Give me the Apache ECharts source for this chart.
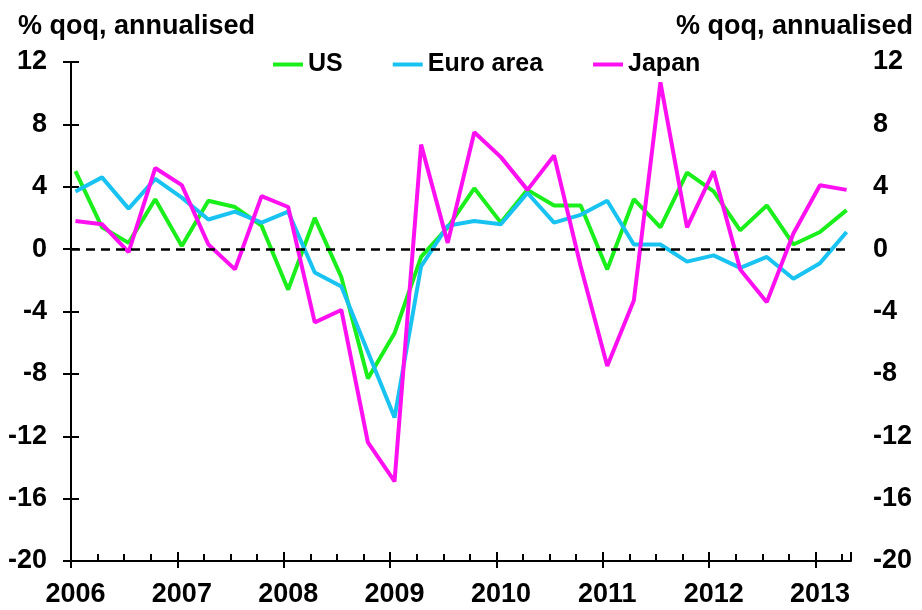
<!DOCTYPE html>
<html lang="en">
<head>
    <meta charset="UTF-8">
    <title>GDP growth: US, Euro area, Japan</title>
    <script src="https://cdn.jsdelivr.net/npm/echarts@6/dist/echarts.min.js"></script>
    <style>
        * { margin: 0; padding: 0; }
        body { background: #ffffff; }
        #chart { width: 922px; height: 610px; }
    </style>
</head>
<body>
    <div id="chart"></div>

    <script>
        // quarterly, 2006 Q1 .. 2013 Q2
        var quarters = [
            '2006Q1', '2006Q2', '2006Q3', '2006Q4',
            '2007Q1', '2007Q2', '2007Q3', '2007Q4',
            '2008Q1', '2008Q2', '2008Q3', '2008Q4',
            '2009Q1', '2009Q2', '2009Q3', '2009Q4',
            '2010Q1', '2010Q2', '2010Q3', '2010Q4',
            '2011Q1', '2011Q2', '2011Q3', '2011Q4',
            '2012Q1', '2012Q2', '2012Q3', '2012Q4',
            '2013Q1', '2013Q2'
        ];
        var us = [5.0, 1.4, 0.4, 3.2, 0.2, 3.1, 2.7, 1.5, -2.6, 2.0,
                  -1.8, -8.3, -5.4, -0.5, 1.4, 3.9, 1.7, 3.8, 2.8, 2.8,
                  -1.3, 3.2, 1.4, 4.9, 3.7, 1.2, 2.8, 0.3, 1.1, 2.5];
        var euro = [3.7, 4.6, 2.6, 4.5, 3.3, 1.9, 2.4, 1.7, 2.4, -1.5,
                    -2.4, -6.6, -10.8, -1.1, 1.5, 1.8, 1.6, 3.6, 1.7, 2.2,
                    3.1, 0.3, 0.3, -0.8, -0.4, -1.2, -0.5, -1.9, -0.9, 1.1];
        var japan = [1.8, 1.6, -0.2, 5.2, 4.1, 0.3, -1.3, 3.4, 2.7, -4.7,
                     -3.9, -12.4, -14.9, 6.7, 0.4, 7.5, 5.9, 3.8, 6.0, -1.1,
                     -7.5, -3.3, 10.7, 1.4, 5.0, -1.3, -3.4, 1.0, 4.1, 3.8];
        var firstYear = 2006;
        var yTicks = { min: -20, max: 12, step: 4 };

        var font = 'Arial, "Liberation Sans", sans-serif';
        var months = quarters.length * 3 - 2;   // axis runs Jan 2006 .. end Apr 2013

        // each quarter plotted in the middle of its first month
        function toPoints(values) {
            return values.map(function (v, i) { return [i * 3 + 0.5, v]; });
        }

        var labelStyle = { color: '#000', fontFamily: font, fontWeight: 'bold', fontSize: 27 };
        var tickLine = { color: '#000', width: 2 };

        function yAxisFor(pos, margin) {
            return {
                type: 'value',
                position: pos,
                min: yTicks.min,
                max: yTicks.max,
                interval: yTicks.step,
                axisLine: { show: true, lineStyle: tickLine },
                axisTick: { show: true, inside: true, length: 8, lineStyle: tickLine },
                axisLabel: Object.assign({ margin: margin }, labelStyle),
                splitLine: { show: false }
            };
        }

        // extra axes sitting on the bottom edge, only to draw ticks pointing up
        function innerTicks(step, len) {
            return {
                type: 'value',
                position: 'top',
                offset: -499,
                min: 0,
                max: months,
                interval: step,
                axisLine: { show: false },
                axisTick: { show: true, inside: false, length: len, lineStyle: tickLine },
                axisLabel: { show: false },
                splitLine: { show: false }
            };
        }

        var chart = echarts.init(document.getElementById('chart'));
        chart.setOption({
            animation: false,
            backgroundColor: '#fff',
            title: [
                { text: '% qoq, annualised', left: 13, top: 8, textStyle: labelStyle },
                { text: '% qoq, annualised', right: 4, top: 8, textStyle: labelStyle }
            ],
            legend: {
                left: 268,
                top: 47,
                icon: 'rect',
                itemWidth: 30,
                itemHeight: 4,
                itemGap: 50,
                textStyle: { color: '#000', fontFamily: font, fontWeight: 'bold', fontSize: 25 },
                data: ['US', 'Euro area', 'Japan']
            },
            grid: { left: 71, right: 71, top: 62, bottom: 49, containLabel: false },
            xAxis: [
                {
                    type: 'value',
                    position: 'bottom',
                    min: 0,
                    max: months,
                    interval: 12,
                    axisLine: { show: true, onZero: false, lineStyle: tickLine },
                    axisTick: { show: true, inside: false, length: 7, lineStyle: tickLine },
                    axisLabel: Object.assign({
                        margin: 20,
                        padding: [0, 0, 0, 9],
                        showMaxLabel: false,
                        formatter: function (v) { return v % 12 === 0 ? String(firstYear + v / 12) : ''; }
                    }, labelStyle),
                    splitLine: { show: false }
                },
                innerTicks(3, 7),
                innerTicks(12, 9)
            ],
            yAxis: [yAxisFor('left', 24), yAxisFor('right', 22)],
            series: [
                {
                    name: 'US', type: 'line', symbol: 'none',
                    data: toPoints(us),
                    lineStyle: { color: '#1BEF1B', width: 4 },
                    itemStyle: { color: '#1BEF1B' },
                    markLine: {
                        silent: true,
                        symbol: 'none',
                        label: { show: false },
                        lineStyle: { color: '#000', type: [9, 6], width: 2.5 },
                        data: [{ yAxis: 0 }]
                    }
                },
                {
                    name: 'Euro area', type: 'line', symbol: 'none',
                    data: toPoints(euro),
                    lineStyle: { color: '#18C3F2', width: 4 },
                    itemStyle: { color: '#18C3F2' }
                },
                {
                    name: 'Japan', type: 'line', symbol: 'none',
                    data: toPoints(japan),
                    lineStyle: { color: '#FF10F0', width: 4 },
                    itemStyle: { color: '#FF10F0' }
                }
            ]
        });
    </script>
</body>
</html>
